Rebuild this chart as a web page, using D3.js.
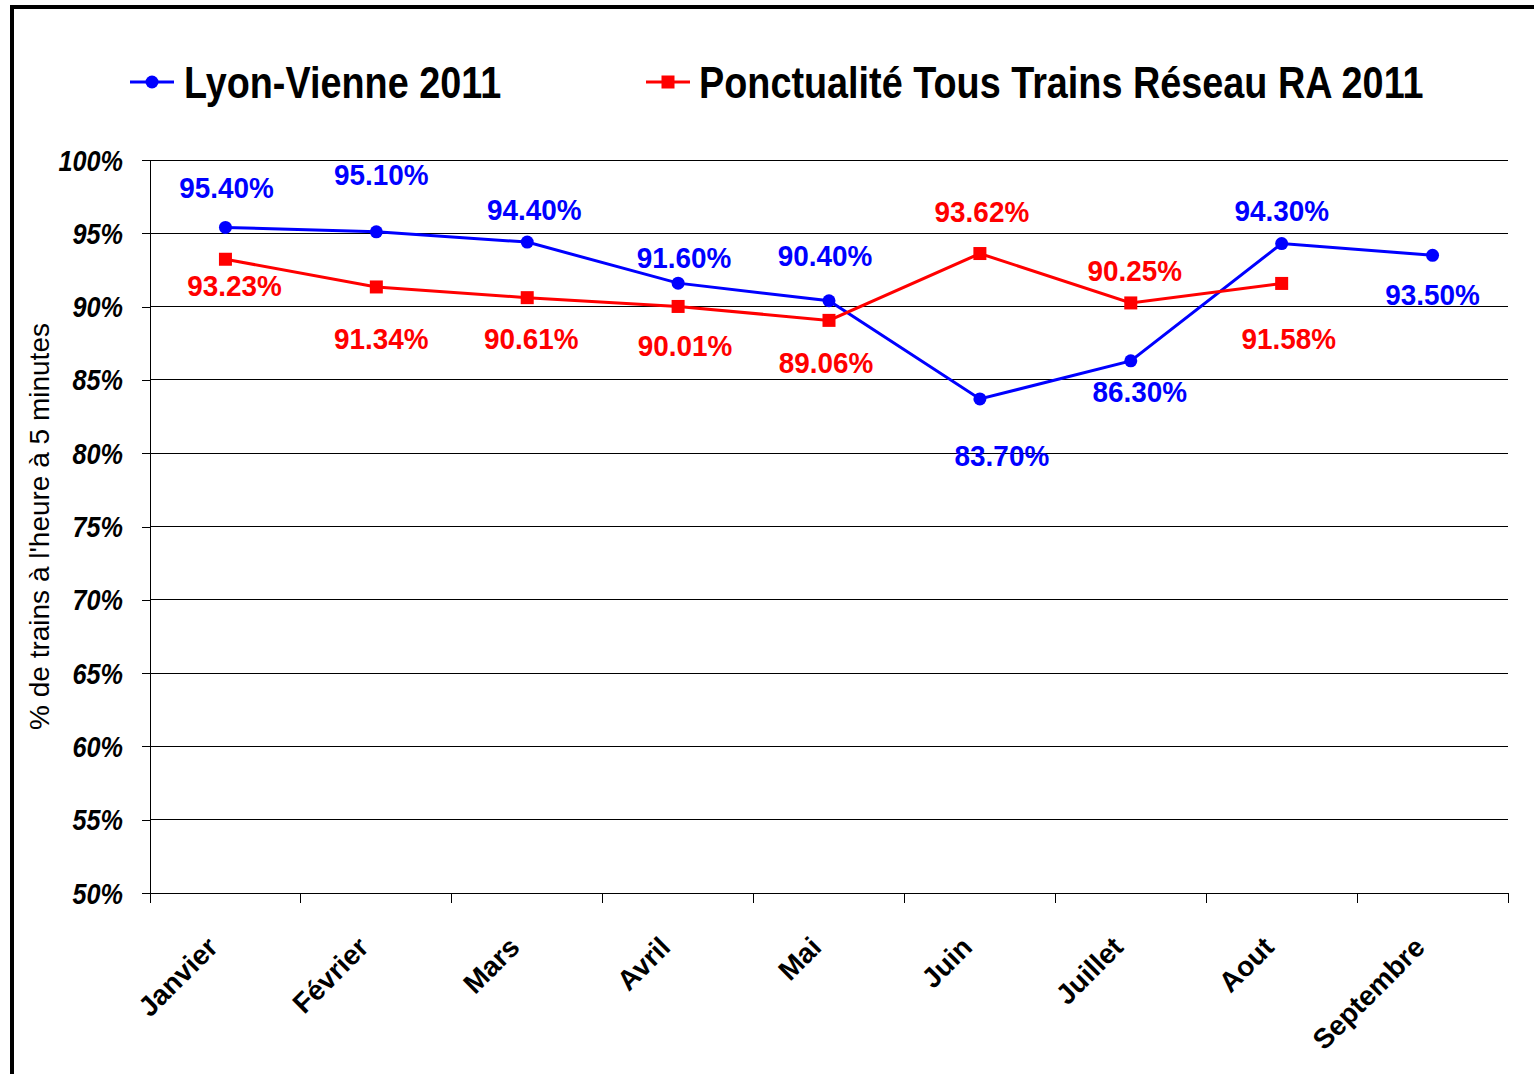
<!DOCTYPE html>
<html><head><meta charset="utf-8">
<script src="https://cdn.jsdelivr.net/npm/d3@7"></script>
<style>
html,body{margin:0;padding:0;background:#fff;}
svg{display:block;}
</style></head>
<body>
<svg id="c" width="1534" height="1074"></svg>
<script>
const months = ["Janvier","Février","Mars","Avril","Mai","Juin","Juillet","Aout","Septembre"];
const lyonVienne = [95.40, 95.10, 94.40, 91.60, 90.40, 83.70, 86.30, 94.30, 93.50];
const reseauRA = [93.23, 91.34, 90.61, 90.01, 89.06, 93.62, 90.25, 91.58];
const yTicks = [50,55,60,65,70,75,80,85,90,95,100];
const seriesNames = ["Lyon-Vienne 2011","Ponctualité Tous Trains Réseau RA 2011"];
// label offsets (dx, dy) relative to the point, as placed in the original
const blueLabelOffsets = [[1,-29],[5,-47],[7,-22],[6,-15],[-4,-35],[22,67],[9,41],[0,-23],[0,50]];
const redLabelOffsets = [[9,37],[5,62],[4,51],[7,50],[-3,53],[2,-32],[4,-22],[7,66]];

const svg = d3.select("#c");
const sans = "'Liberation Sans',Arial,sans-serif";
const BLUE = "#0000ff", RED = "#ff0000";

// frame border
svg.append("path").attr("d","M12,1074 L12,7 L1534,7").attr("fill","none").attr("stroke","#000").attr("stroke-width",4);

const L = 150, R = 1508, T = 160, B = 893;
const x = d3.scaleBand().domain(months).range([L,R]);
const y = d3.scaleLinear().domain([50,100]).range([B,T]);
const cx = m => x(m) + x.bandwidth()/2;

// gridlines
svg.append("g").selectAll("line").data(yTicks).join("line")
  .attr("x1",L).attr("x2",R).attr("y1",d=>y(d)).attr("y2",d=>y(d))
  .attr("stroke","#000").attr("stroke-width",1).attr("shape-rendering","crispEdges");

// y axis
const yAxis = svg.append("g").attr("transform",`translate(${L},0)`)
  .call(d3.axisLeft(y).tickValues(yTicks).tickSize(8).tickFormat(d=>d+"%"));
yAxis.select(".domain").attr("stroke","#000").attr("d",`M0,${T}V${B+9}`).attr("shape-rendering","crispEdges");
yAxis.selectAll(".tick line").attr("stroke","#000").attr("shape-rendering","crispEdges");
yAxis.selectAll("text").attr("x",null).attr("dy",null)
  .attr("transform","translate(-27,10) scale(0.87,1)")
  .attr("font-family",sans).attr("font-weight","bold").attr("font-style","italic")
  .attr("font-size",29).attr("fill","#000");

// x axis (ticks at category boundaries)
const xAxis = svg.append("g").attr("transform",`translate(0,${B})`);
xAxis.append("line").attr("x1",L).attr("x2",R).attr("y1",0).attr("y2",0).attr("stroke","#000").attr("shape-rendering","crispEdges");
const bounds = months.map(m=>x(m)).concat([R]);
xAxis.selectAll("line.t").data(bounds).join("line").attr("class","t")
  .attr("x1",d=>d).attr("x2",d=>d).attr("y1",0).attr("y2",10).attr("stroke","#000").attr("shape-rendering","crispEdges");
xAxis.selectAll("text").data(months).join("text")
  .attr("transform",d=>`translate(${cx(d)-6},${56}) rotate(-45)`)
  .attr("text-anchor","end").attr("font-family",sans).attr("font-weight","bold").attr("font-size",28)
  .attr("fill","#000").text(d=>d);

// y title
svg.append("text").attr("transform",`translate(49,${(T+B)/2}) rotate(-90)`)
  .attr("text-anchor","middle").attr("font-family",sans).attr("font-size",28).attr("fill","#000")
  .text("% de trains à l'heure à 5 minutes");

// lines
const line = d3.line().x((d,i)=>cx(months[i])).y(d=>y(d));
svg.append("path").datum(lyonVienne).attr("d",line).attr("fill","none").attr("stroke",BLUE).attr("stroke-width",3);
svg.append("path").datum(reseauRA).attr("d",line).attr("fill","none").attr("stroke",RED).attr("stroke-width",3);

svg.append("g").selectAll("circle").data(lyonVienne).join("circle")
  .attr("cx",(d,i)=>cx(months[i])).attr("cy",d=>y(d)).attr("r",6.5).attr("fill",BLUE);
svg.append("g").selectAll("rect").data(reseauRA).join("rect")
  .attr("x",(d,i)=>cx(months[i])-6.5).attr("y",d=>y(d)-6.5).attr("width",13).attr("height",13).attr("fill",RED);

// data labels
function labels(data, offs, color){
  svg.append("g").selectAll("text").data(data).join("text")
    .attr("transform",(d,i)=>`translate(${cx(months[i])+offs[i][0]},${y(d)+offs[i][1]}) scale(0.93,1)`)
    .attr("text-anchor","middle").attr("font-family",sans).attr("font-weight","bold")
    .attr("font-size",30).attr("fill",color).text(d=>d.toFixed(2)+"%");
}
labels(lyonVienne, blueLabelOffsets, BLUE);
labels(reseauRA, redLabelOffsets, RED);

// legend
const leg = svg.append("g");
leg.append("line").attr("x1",130).attr("x2",174).attr("y1",82).attr("y2",82).attr("stroke",BLUE).attr("stroke-width",3);
leg.append("circle").attr("cx",152).attr("cy",82).attr("r",6.5).attr("fill",BLUE);
leg.append("text").attr("transform","translate(184,98) scale(0.84,1)").attr("font-family",sans).attr("font-weight","bold").attr("font-size",45).attr("fill","#000").text(seriesNames[0]);
leg.append("line").attr("x1",646).attr("x2",690).attr("y1",82).attr("y2",82).attr("stroke",RED).attr("stroke-width",3);
leg.append("rect").attr("x",661.5).attr("y",75.5).attr("width",13).attr("height",13).attr("fill",RED);
leg.append("text").attr("transform","translate(699,98) scale(0.84,1)").attr("font-family",sans).attr("font-weight","bold").attr("font-size",45).attr("fill","#000").text(seriesNames[1]);
</script>
</body></html>
